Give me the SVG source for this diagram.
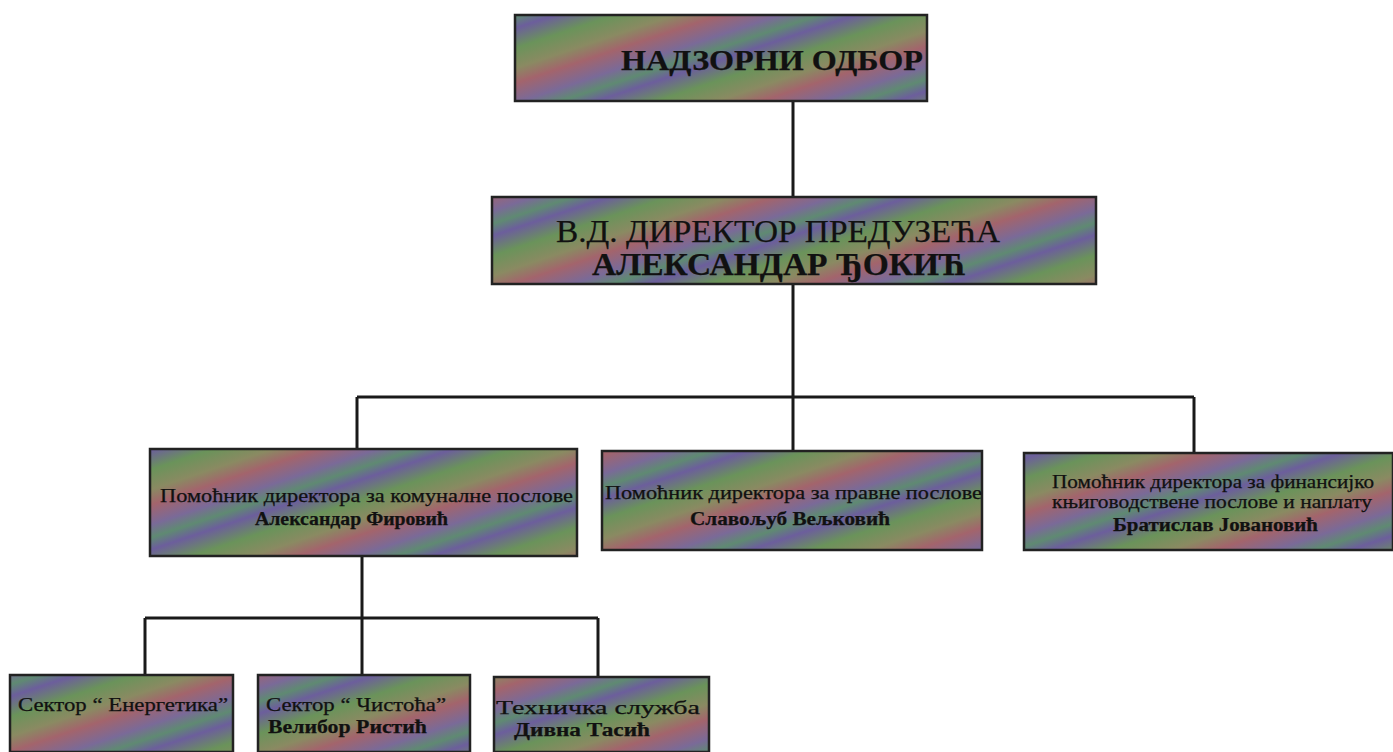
<svg xmlns="http://www.w3.org/2000/svg" width="1393" height="752" viewBox="0 0 1393 752">
<defs>
<linearGradient id="stripes" gradientUnits="userSpaceOnUse" x1="0" y1="0" x2="30" y2="90" spreadMethod="repeat">
<stop offset="0" stop-color="#6c5e9c"/>
<stop offset="0.2" stop-color="#6a935a"/>
<stop offset="0.4" stop-color="#8a8a62"/>
<stop offset="0.55" stop-color="#a3646c"/>
<stop offset="0.75" stop-color="#7a6a98"/>
<stop offset="0.88" stop-color="#5f8a72"/>
<stop offset="1" stop-color="#6c5e9c"/>
</linearGradient>
</defs>
<style>
.box{fill:url(#stripes);stroke:#222;stroke-width:2.5}
.t{font-family:"Liberation Serif","DejaVu Serif",serif;fill:#111;stroke:#111;stroke-width:0.25}
.b{font-weight:bold}
.c{stroke:#1a1a1a;stroke-width:3;fill:none}
</style>
<rect width="1393" height="752" fill="#ffffff"/>
<g id="connectors">
<path class="c" d="M793 101V197M793 284V397M357 397H1194M357 397V449M793 397V451M1194 397V453M362 556V618M145 618H598M145 618V675M362 618V675M598 618V677"/>
</g>
<g id="n1"><rect class="box" x="515" y="15" width="412" height="86"/><text class="t b" x="621" y="70" font-size="30" textLength="302" lengthAdjust="spacingAndGlyphs">НАДЗОРНИ ОДБОР</text></g>
<g id="n2"><rect class="box" x="492" y="197" width="604" height="87"/><text class="t" x="556" y="242" font-size="31" textLength="444" lengthAdjust="spacingAndGlyphs">В.Д.  ДИРЕКТОР ПРЕДУЗЕЋА</text><text class="t b" x="592" y="275" font-size="31" textLength="374" lengthAdjust="spacingAndGlyphs">АЛЕКСАНДАР ЂОКИЋ</text></g>
<g id="n3"><rect class="box" x="150" y="449" width="427" height="107"/><text class="t" x="160" y="502" font-size="18" textLength="413" lengthAdjust="spacingAndGlyphs">Помоћник директора за комуналне послове</text><text class="t b" x="255" y="525" font-size="18" textLength="193" lengthAdjust="spacingAndGlyphs">Александар Фировић</text></g>
<g id="n4"><rect class="box" x="602" y="451" width="380" height="99"/><text class="t" x="605" y="499" font-size="18" textLength="377" lengthAdjust="spacingAndGlyphs">Помоћник директора за правне послове</text><text class="t b" x="690" y="525" font-size="18" textLength="200" lengthAdjust="spacingAndGlyphs">Славољуб Вељковић</text></g>
<g id="n5"><rect class="box" x="1024" y="453" width="369" height="97"/><text class="t" x="1052" y="488" font-size="18" textLength="322" lengthAdjust="spacingAndGlyphs">Помоћник директора за финансијко</text><text class="t" x="1052" y="508" font-size="18" textLength="320" lengthAdjust="spacingAndGlyphs">књиговодствене послове и наплату</text><text class="t b" x="1113" y="531" font-size="18" textLength="205" lengthAdjust="spacingAndGlyphs">Братислав Јовановић</text></g>
<g id="n6"><rect class="box" x="10" y="675" width="223" height="77"/><text class="t" x="18" y="711" font-size="18" textLength="210" lengthAdjust="spacingAndGlyphs">Сектор “ Енергетика”</text></g>
<g id="n7"><rect class="box" x="258" y="675" width="212" height="77"/><text class="t" x="266" y="711" font-size="18" textLength="180" lengthAdjust="spacingAndGlyphs">Сектор “ Чистоћа”</text><text class="t b" x="268" y="733" font-size="18" textLength="159" lengthAdjust="spacingAndGlyphs">Велибор Ристић</text></g>
<g id="n8"><rect class="box" x="494" y="677" width="215" height="75"/><text class="t" x="496" y="714" font-size="18" textLength="204" lengthAdjust="spacingAndGlyphs">Техничка служба</text><text class="t b" x="514" y="736" font-size="18" textLength="136" lengthAdjust="spacingAndGlyphs">Дивна Тасић</text></g>
</svg>
